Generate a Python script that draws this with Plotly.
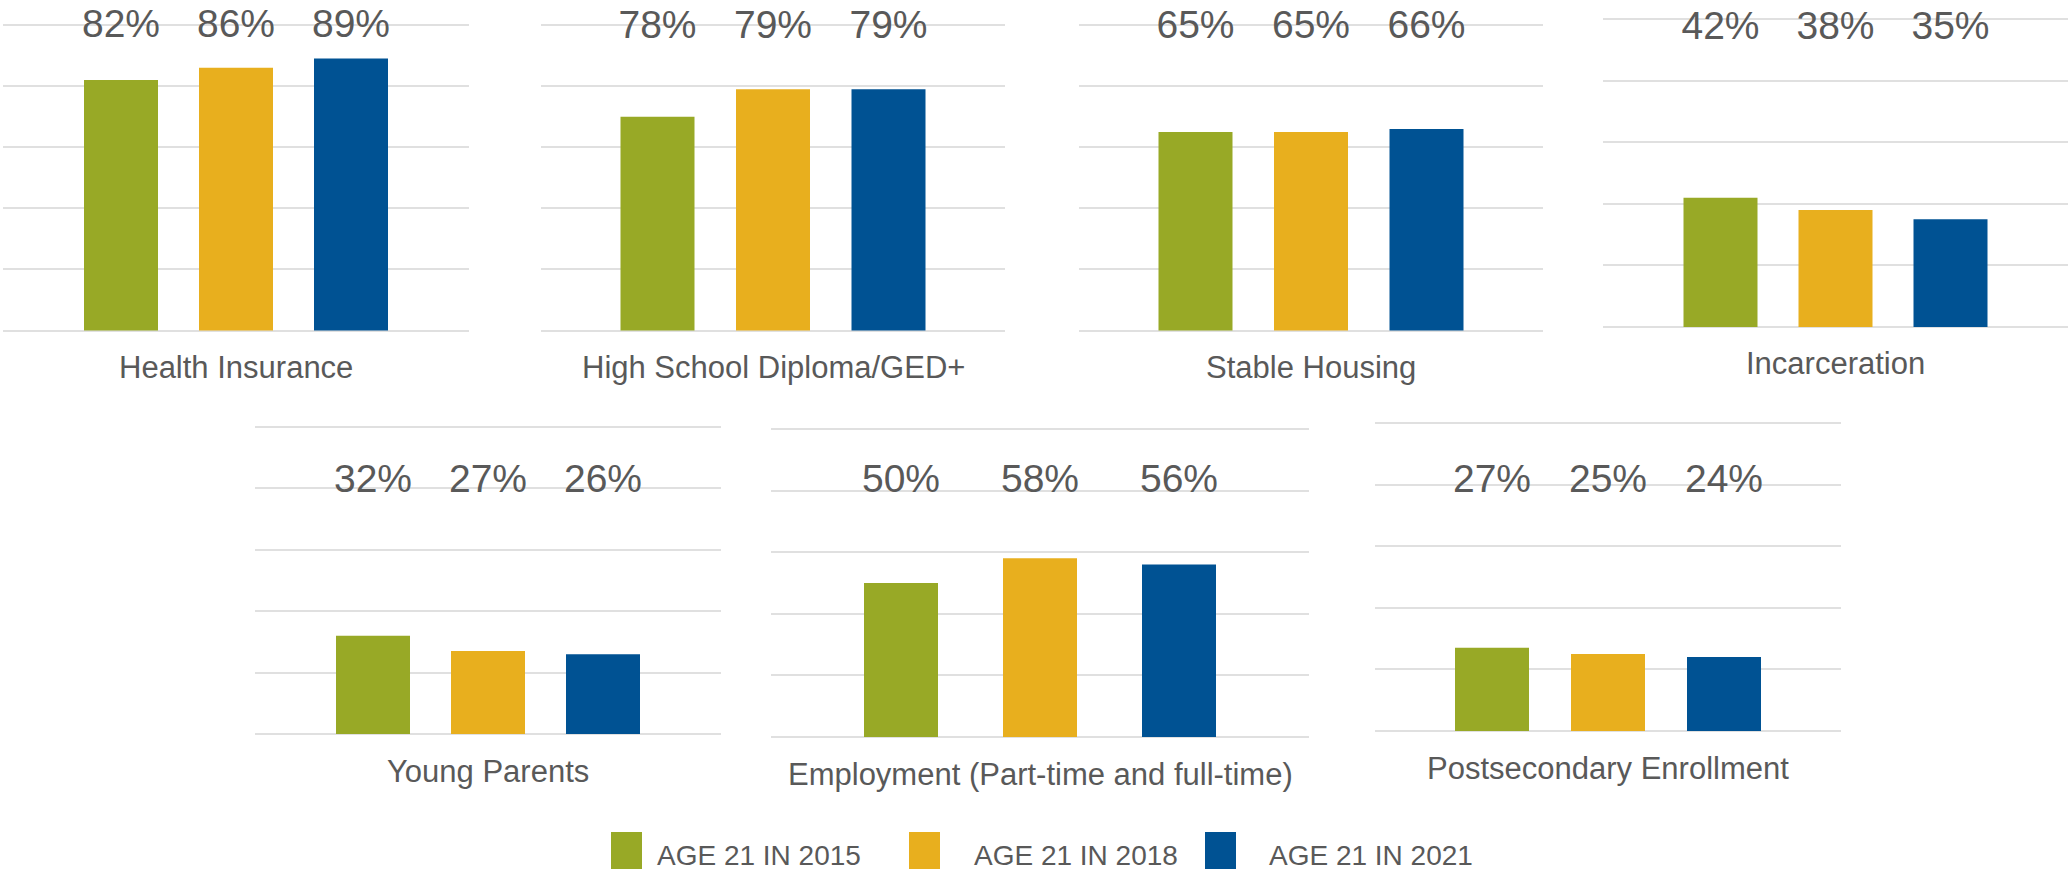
import plotly.graph_objects as go

# ---------------- data ----------------
panels = ["Health Insurance", "High School Diploma/GED+", "Stable Housing", "Incarceration",
          "Young Parents", "Employment (Part-time and full-time)", "Postsecondary Enrollment"]
series_names = ["AGE 21 IN 2015", "AGE 21 IN 2018", "AGE 21 IN 2021"]
years = ["2015", "2018", "2021"]
# bar heights as drawn in the picture (%)
bars_2015 = [82, 70, 65, 42, 32, 50, 27]
bars_2018 = [86, 79, 65, 38, 27, 58, 25]
bars_2021 = [89, 79, 66, 35, 26, 56, 24]
# data labels as printed
labels_2015 = ["82%", "78%", "65%", "42%", "32%", "50%", "27%"]
labels_2018 = ["86%", "79%", "65%", "38%", "27%", "58%", "25%"]
labels_2021 = ["89%", "79%", "66%", "35%", "26%", "56%", "24%"]
y_ticks = [0, 20, 40, 60, 80, 100]

# ---------------- style / layout ----------------
W, H = 2068, 871
colors = ["#98A926", "#E8AF1E", "#005293"]
text_color = "#595959"
grid_color = "#E0E0E0"
font_main = "Liberation Sans, Arial, sans-serif"
BAR_PX = 74
PAD = 1.0  # small range padding so that the 0 and 100 gridlines are drawn
# panel geometry in px: x0, x1, ytop(100%), ybottom(0%), group spacing, label height (data units)
geo = [
    (3, 469, 25, 330.5, 115, 99.4),
    (541, 1005, 25, 330.5, 115.5, 98.9),
    (1079, 1543, 25, 330.5, 115.5, 98.9),
    (1603, 2068, 19, 327, 115, 96.8),
    (255, 721, 427, 734, 115, 82.0),
    (771, 1309, 429, 737, 139, 82.6),
    (1375, 1841, 423, 731, 116, 80.7),
]

fig = go.Figure()
layout_axes = {}
annotations = []
for i, name in enumerate(panels):
    n = i + 1
    xs = "" if n == 1 else str(n)
    x0, x1, yt, yb, sp, ly = geo[i]
    wpx = x1 - x0
    half = wpx / (2 * sp)
    ppu = (yb - yt) / 100.0
    yt2, yb2 = yt - PAD * ppu, yb + PAD * ppu
    vals = [bars_2015[i], bars_2018[i], bars_2021[i]]
    labs = [labels_2015[i], labels_2018[i], labels_2021[i]]
    fig.add_trace(go.Bar(
        x=years, y=vals, marker=dict(color=colors, line=dict(width=0)),
        width=BAR_PX / sp, xaxis="x" + xs, yaxis="y" + xs, showlegend=False,
        hoverinfo="skip"))
    fig.add_trace(go.Scatter(
        x=years, y=[ly] * 3, text=labs, mode="text", textposition="middle center",
        textfont=dict(size=39, color=text_color, family=font_main),
        cliponaxis=False, xaxis="x" + xs, yaxis="y" + xs, showlegend=False,
        hoverinfo="skip"))
    layout_axes["xaxis" + xs] = dict(
        domain=[x0 / W, x1 / W], type="category", categoryorder="array",
        categoryarray=years, range=[1 - half, 1 + half], showticklabels=False,
        showgrid=False, zeroline=False, showline=False, ticks="", anchor="y" + xs,
        fixedrange=True)
    layout_axes["yaxis" + xs] = dict(
        domain=[1 - yb2 / H, 1 - yt2 / H], range=[-PAD, 100 + PAD], tickvals=y_ticks,
        showticklabels=False, showgrid=True, gridcolor=grid_color, gridwidth=1.5,
        zeroline=False, showline=False, ticks="", anchor="x" + xs, fixedrange=True)
    annotations.append(dict(
        text=name, xref="x" + xs + " domain", yref="paper",
        x=0.5, y=1 - yb / H, xanchor="center", yanchor="middle", yshift=-37,
        showarrow=False, font=dict(size=31, color=text_color, family=font_main)))

# custom legend (tall swatches)
legend_px = [(611, 642, 655), (909, 940, 972), (1205, 1236, 1267)]
shapes = []
for k, sname in enumerate(series_names):
    sx0, sx1, tx = legend_px[k]
    shapes.append(dict(type="rect", xref="paper", yref="paper",
                       x0=sx0 / W, x1=sx1 / W, y0=1 - 869 / H, y1=1 - 832 / H,
                       fillcolor=colors[k], line=dict(width=0)))
    annotations.append(dict(
        text=sname, xref="paper", yref="paper", x=tx / W, y=1 - 855 / H,
        xanchor="left", yanchor="middle", showarrow=False,
        font=dict(size=28, color=text_color, family=font_main)))

fig.update_layout(
    width=W, height=H, margin=dict(l=0, r=0, t=0, b=0),
    paper_bgcolor="white", plot_bgcolor="white",
    barmode="overlay", showlegend=False,
    annotations=annotations, shapes=shapes,
    font=dict(family=font_main, color=text_color),
    **layout_axes)

fig.write_html("out.html", config={"displayModeBar": False})
